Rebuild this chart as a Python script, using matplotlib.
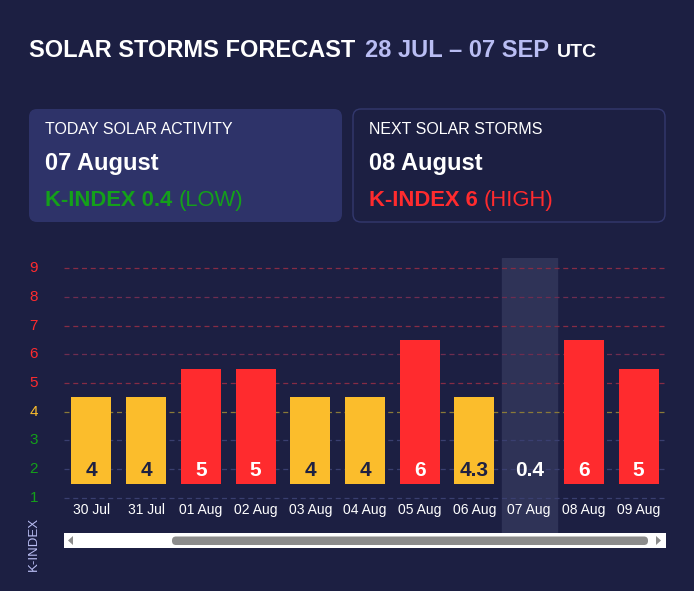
import matplotlib
matplotlib.use('Agg')
import matplotlib.pyplot as plt
from matplotlib.patches import FancyBboxPatch, Rectangle, Polygon
import numpy as np

plt.rcParams['font.family'] = ['Liberation Sans', 'DejaVu Sans']

# data
days = ['30 Jul', '31 Jul', '01 Aug', '02 Aug', '03 Aug', '04 Aug',
        '05 Aug', '06 Aug', '07 Aug', '08 Aug', '09 Aug']
kIndex = [4, 4, 5, 5, 4, 4, 6, 4.3, 0.4, 6, 5]
todayIdx = 8
yTicks = [1, 2, 3, 4, 5, 6, 7, 8, 9]

bgColor = '#1c1f42'
cardColor = '#2e3369'
red = '#ff2b2e'
yellow = '#fbbd2c'
green = '#14a01a'
lavender = '#b9bdf3'
darkText = '#1e2142'

W, H = 694, 591
fig = plt.figure(figsize=(W / 100, H / 100), dpi=100)
fig.patch.set_facecolor(bgColor)

# overlay in pixel coords for header, cards and scrollbar
ov = fig.add_axes([0, 0, 1, 1], zorder=0)
ov.set_xlim(0, W)
ov.set_ylim(H, 0)
ov.axis('off')

renderer = fig.canvas.get_renderer()

def textRun(x, y, pieces):
    """draw text pieces one after another on the same baseline"""
    for s, color, size, weight, gap in pieces:
        t = ov.text(x, y, s, color=color, fontsize=size, fontweight=weight,
                    va='baseline', ha='left')
        bb = t.get_window_extent(renderer=renderer)
        x += bb.width + gap

textRun(29, 57, [('SOLAR STORMS FORECAST', 'white', 17, 'bold', 10),
                 ('28 JUL \u2013 07 SEP', lavender, 17, 'bold', 8),
                 ('UTC', 'white', 14, 'bold', 0)])

# cards
ov.add_patch(FancyBboxPatch((29, 109), 313, 113, boxstyle='round,pad=0,rounding_size=8',
                            facecolor=cardColor, edgecolor='none'))
ov.add_patch(FancyBboxPatch((353, 109), 312, 113, boxstyle='round,pad=0,rounding_size=8',
                            facecolor=bgColor, edgecolor='#33386e', linewidth=1))

textRun(45, 134, [('TODAY SOLAR ACTIVITY', 'white', 11.5, 'normal', 0)])
textRun(45, 170, [('07 August', 'white', 17, 'bold', 0)])
textRun(45, 206, [('K-INDEX 0.4 ', green, 15.8, 'bold', 0), ('(LOW)', green, 15.8, 'normal', 0)])

textRun(369, 134, [('NEXT SOLAR STORMS', 'white', 11.5, 'normal', 0)])
textRun(369, 170, [('08 August', 'white', 17, 'bold', 0)])
textRun(369, 206, [('K-INDEX 6 ', red, 15.8, 'bold', 0), ('(HIGH)', red, 15.8, 'normal', 0)])

# scrollbar
ov.add_patch(Rectangle((64, 533), 602, 15, facecolor='white', edgecolor='none'))
ov.add_patch(FancyBboxPatch((172, 536.5), 476, 8.5, boxstyle='round,pad=0,rounding_size=4',
                            facecolor='#8c8c8c', edgecolor='none'))
ov.add_patch(Polygon([[68, 540.5], [73, 536], [73, 545]], closed=True, facecolor='#8c8c8c'))
ov.add_patch(Polygon([[661, 540.5], [656, 536], [656, 545]], closed=True, facecolor='#8c8c8c'))

ov.text(34, 544, 'K-INDEX', rotation=90, color=lavender, fontsize=9.5, ha='center', va='center')

# chart axes
ax = fig.add_axes([64 / W, (H - 533) / H, 602 / W, 275 / H], zorder=1)
ax.set_facecolor('none')
ax.set_xlim(0, len(days))
ax.set_ylim(-0.22, 9.35)
ax.axis('off')

def levelColor(k):
    if k >= 5:
        return red
    if k >= 4:
        return yellow
    return green

gridColors = {1: '#3a3f70', 2: '#3a3f70', 3: '#3a3f70', 4: '#8a7a38',
              5: '#862c45', 6: '#6e2d50', 7: '#862c45', 8: '#6e2d50', 9: '#862c45'}
for k in yTicks:
    ax.axhline(k, color=gridColors[k], linestyle=(0, (4, 3)), linewidth=0.9, zorder=1)
    ax.text(-0.55, k, str(k), color=levelColor(k), fontsize=11,
            ha='center', va='center')

ax.axvspan(todayIdx, todayIdx + 1, color='#2f3357', zorder=0)

x = np.arange(len(days)) + 0.5
levels = np.floor(kIndex)
heights = np.clip(levels - 1, 0, None)
barCols = [red if l >= 5 else yellow for l in levels]
ax.bar(x, heights, width=0.73, bottom=1.5, color=barCols, zorder=2)

for i, (xi, k) in enumerate(zip(x, kIndex)):
    lab = '%g' % k
    col = darkText if barCols[i] == yellow and heights[i] > 0 else 'white'
    ax.text(xi, 1.95, lab, color=col, fontsize=15, fontweight='bold',
            ha='center', va='center', zorder=3)
    ax.text(xi, 0.58, days[i], color='white', fontsize=10, ha='center', va='center', zorder=3)

fig.savefig('out.png', dpi=100, facecolor=bgColor)
